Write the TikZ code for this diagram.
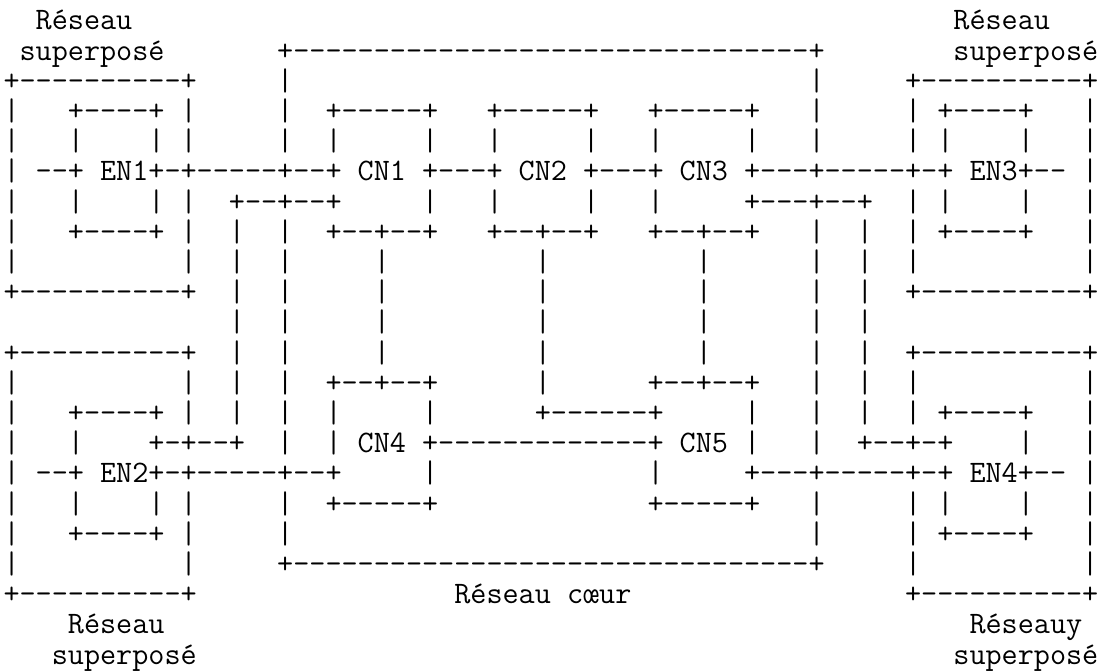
\documentclass[tikz,border=0pt]{standalone}
\usepackage{fontspec}
\def\cw{16.1}
\def\lh{30.2}
\def\xo{3.5}
\def\yo{641}
\def\asciisize{30.67}
\newcommand\asciifont{\ttfamily\fontsize{\asciisize pt}{30.2pt}\selectfont\spaceskip=16.1pt\relax}
\tikzset{txt/.style={anchor=base west, inner sep=0pt, outer sep=0pt, text=black, font=\asciifont}}
\newcommand\txtat[4]{\node[txt] (#1) at ({\xo+(#3)*\cw},{\yo-(#2)*\lh}) {#4};}
\newcommand\bars[2]{\foreach \c in {#2} {\node[txt] (b#1-\c) at ({\xo+\c*\cw},{\yo-(#1)*\lh}) {|};}}
\begingroup
\catcode`\-=\active
\gdef\asciidashes{\catcode`\-=\active}
\gdef-{\hbox{\char45}}
\endgroup
\begin{document}
\setbox0\hbox{\ttfamily\fontsize{30pt}{30pt}\selectfont M}%
\pgfmathsetmacro\asciisize{30*16.1/(\the\wd0)}%
\asciidashes
\begin{tikzpicture}[x=1pt,y=1pt]
\useasboundingbox (0,0) rectangle (1099,671);
% row 0
\txtat{t0a}{0}{2}{Réseau}
\txtat{t0b}{0}{59}{Réseau}
% row 1
\txtat{t1a}{1}{1}{superposé}
\txtat{coretop}{1}{17}{+--------------------------------+}
\txtat{t1c}{1}{59}{superposé}
% row 2
\txtat{lboxAt}{2}{0}{+----------+}
\bars{2}{17,50}
\txtat{rboxAt}{2}{56}{+----------+}
% row 3
\bars{3}{0,11,17,50,56,67}
\txtat{enAt}{3}{4}{+----+}
\txtat{cnAt}{3}{20}{+-----+}
\txtat{cnBt}{3}{30}{+-----+}
\txtat{cnCt}{3}{40}{+-----+}
\txtat{enCt}{3}{58}{+----+}
% row 4
\bars{4}{0,4,9,11,17,20,26,30,36,40,46,50,56,58,63,67}
% row 5
\txtat{r5}{5}{0}{| --+ EN1+-+-----+--+ CN1 +---+ CN2 +---+ CN3 +---+-----+-+ EN3+-- |}
% row 6
\bars{6}{0,4,9,11,26,30,36,40,56,58,63,67}
\txtat{r6a}{6}{14}{+--+--+}
\txtat{r6b}{6}{46}{+---+--+}
% row 7
\bars{7}{0,11,14,17,50,53,56,67}
\txtat{enAb}{7}{4}{+----+}
\txtat{cnAb}{7}{20}{+--+--+}
\txtat{cnBb}{7}{30}{+--+--+}
\txtat{cnCb}{7}{40}{+--+--+}
\txtat{enCb}{7}{58}{+----+}
% row 8
\bars{8}{0,11,14,17,23,33,43,50,53,56,67}
% row 9
\txtat{lboxAb}{9}{0}{+----------+}
\bars{9}{14,17,23,33,43,50,53}
\txtat{rboxAb}{9}{56}{+----------+}
% row 10
\bars{10}{14,17,23,33,43,50,53}
% row 11
\txtat{lboxBt}{11}{0}{+----------+}
\bars{11}{14,17,23,33,43,50,53}
\txtat{rboxBt}{11}{56}{+----------+}
% row 12
\bars{12}{0,11,14,17,33,50,53,56,67}
\txtat{cnDt}{12}{20}{+--+--+}
\txtat{cnEt}{12}{40}{+--+--+}
% row 13
\bars{13}{0,11,14,17,20,26,46,50,53,56,67}
\txtat{enBt}{13}{4}{+----+}
\txtat{r13}{13}{33}{+------+}
\txtat{enDt}{13}{58}{+----+}
% row 14
\bars{14}{0,4,17,20,46,50,63,67}
\txtat{r14a}{14}{9}{+-+--+}
\txtat{cn4}{14}{22}{CN4}
\txtat{r14b}{14}{26}{+-------------+}
\txtat{cn5}{14}{42}{CN5}
\txtat{r14c}{14}{53}{+--+-+}
% row 15
\txtat{r15a}{15}{0}{| --+ EN2+-+-----+--+}
\bars{15}{26,40}
\txtat{r15b}{15}{46}{+---+-----+-+ EN4+-- |}
% row 16
\bars{16}{0,4,9,11,17,50,56,58,63,67}
\txtat{cnDb}{16}{20}{+-----+}
\txtat{cnEb}{16}{40}{+-----+}
% row 17
\bars{17}{0,11,17,50,56,67}
\txtat{enBb}{17}{4}{+----+}
\txtat{enDb}{17}{58}{+----+}
% row 18
\bars{18}{0,11,56,67}
\txtat{corebot}{18}{17}{+--------------------------------+}
% row 19
\txtat{lboxBb}{19}{0}{+----------+}
\txtat{corelbl}{19}{28}{Réseau cœur}
\txtat{rboxBb}{19}{56}{+----------+}
% row 20
\txtat{t20a}{20}{4}{Réseau}
\txtat{t20b}{20}{60}{Réseauy}
% row 21
\txtat{t21a}{21}{3}{superposé}
\txtat{t21b}{21}{59}{superposé}
\end{tikzpicture}
\end{document}
